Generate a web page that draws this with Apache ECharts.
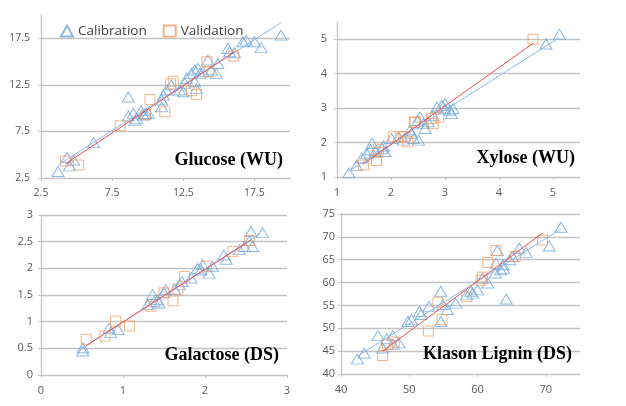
<!DOCTYPE html>
<html>
<head>
<meta charset="utf-8">
<script src="https://cdn.jsdelivr.net/npm/echarts@6/dist/echarts.min.js"></script>
<style>html,body{margin:0;padding:0;background:#fff}#c{width:626px;height:406px}</style>
</head>
<body>
<div id="c"></div>
<script>
// ---- Glucose (WU)
var glucoseCal = [[3.7,3.2],[4.33,4.72],[4.5,3.8],[4.8,4.43],[6.2,6.3],[8.64,11.2],[8.64,9.15],[8.99,9.44],[9.23,8.9],[9.53,9.72],[9.88,9.44],[10.04,9.44],[9.8,9.36],[9.7,9.26],[9.1,8.7],[10.98,10.15],[10.98,10.87],[11.1,11.4],[11.33,11.94],[11.67,12.48],[12.25,11.94],[12.5,11.76],[12.6,12.66],[12.72,13.2],[13.07,13.73],[13.3,14.09],[13.53,14.27],[13.3,12.83],[13.42,12.1],[13.65,13.73],[13.88,13.9],[14.23,15.16],[14.47,14.09],[14.82,13.73],[14.93,14.8],[15.63,16.4],[15.75,16.05],[16.1,15.95],[16.68,17.13],[16.92,17.3],[17.5,17.13],[17.97,16.5],[19.37,17.84]];
var glucoseVal = [[4.21,4.32],[5.14,3.89],[8.06,8.1],[9.85,9.3],[10.16,10.94],[11.2,9.6],[11.6,12.6],[11.8,12.9],[13.07,11.87],[13.42,11.48],[14.16,14.98],[14.3,13.9],[16.05,15.6]];
var glucoseCalFit = [[3.7,3.9],[19.4,19.2]];
var glucoseValFit = [[4.2,4.0],[16.1,16.05]];
// ---- Xylose (WU)
var xyloseCal = [[1.22,1.12],[1.36,1.33],[1.46,1.55],[1.55,1.69],[1.65,1.98],[1.62,1.79],[1.71,1.74],[1.83,1.83],[1.89,1.74],[1.86,1.9],[2.01,2.12],[2.14,2.17],[2.23,2.07],[2.35,2.36],[2.38,2.27],[2.42,2.12],[2.51,2.07],[2.54,2.74],[2.49,2.64],[2.6,2.55],[2.63,2.41],[2.69,2.6],[2.78,2.79],[2.85,3.03],[2.94,3.08],[3.0,2.98],[3.09,2.94],[3.0,3.13],[3.15,2.98],[3.12,2.84],[4.87,4.86],[5.12,5.14]];
var xyloseVal = [[1.49,1.35],[1.73,1.48],[1.77,1.81],[1.76,1.71],[2.05,2.17],[2.18,2.17],[2.31,2.02],[2.26,2.17],[2.45,2.6],[2.43,2.58],[2.75,2.7],[2.78,2.55],[2.88,2.74],[4.63,5.0]];
var xyloseCalFit = [[1.2,1.15],[5.12,5.05]];
var xyloseValFit = [[1.48,1.37],[4.63,4.88]];
// ---- Galactose (DS)
var galactoseCal = [[0.51,0.51],[0.51,0.45],[0.83,0.88],[0.94,0.85],[0.85,0.8],[1.3,1.32],[1.36,1.51],[1.38,1.38],[1.42,1.41],[1.44,1.35],[1.5,1.54],[1.52,1.6],[1.63,1.6],[1.69,1.69],[1.72,1.75],[1.83,1.82],[1.91,2.0],[1.95,1.97],[1.97,2.07],[2.05,1.91],[2.09,2.04],[2.23,2.25],[2.26,2.17],[2.42,2.35],[2.48,2.41],[2.56,2.69],[2.58,2.41],[2.7,2.67],[2.54,2.52]];
var galactoseVal = [[0.55,0.67],[0.78,0.73],[0.91,1.01],[1.08,0.92],[1.34,1.29],[1.5,1.54],[1.61,1.39],[1.67,1.61],[1.75,1.85],[2.02,2.04],[2.34,2.32],[2.54,2.52]];
var galactoseCalFit = [[0.5,0.5],[2.68,2.66]];
var galactoseValFit = [[0.55,0.55],[2.56,2.53]];
// ---- Klason Lignin (DS)
var ligninCal = [[42.4,43.3],[43.4,44.6],[45.4,48.4],[46.1,45.7],[46.7,47.7],[47.6,48.4],[47.6,46.5],[48.5,46.8],[49.8,51.5],[50.3,51.9],[51.5,53.7],[51.7,53],[52.9,54.8],[54.6,58.1],[54.6,51.5],[54.9,55.2],[55.6,54.1],[56.8,55.5],[58.4,57.3],[59.0,58.1],[59.3,57.7],[60.0,58.4],[60.7,61],[61.5,59.9],[62.6,62.1],[62.7,64.2],[62.9,67],[63.4,62.8],[63.7,63.9],[63.8,63.1],[64.2,56.4],[64.7,65],[65.1,65.7],[66.1,67.5],[67.1,66.6],[70.5,68.0],[72.2,72.1]];
var ligninVal = [[46.1,44.05],[46.8,46.5],[47.8,47.0],[52.8,49.4],[54.2,55.7],[54.8,51.9],[58.4,56.9],[60.5,60.5],[60.7,61.2],[61.5,64.4],[62.7,67.0],[65.5,65.7],[69.5,69.3]];
var ligninCalFit = [[42.4,43.9],[72.2,71.7]];
var ligninValFit = [[46.1,45.0],[69.5,70.8]];

var panelTitles = ['Glucose (WU)','Xylose (WU)','Galactose (DS)','Klason Lignin (DS)'];
var axisMin = [2.5, 1, 0, 40];
var axisMax = [20, 5.5, 3, 75];
var axisStep = [5, 1, 0.5, 5];
var xAxisStep = [5, 1, 1, 10];

var BLUE = '#6fa8dc', ORANGE = '#f0a066', BLUE_LINE = '#8dbbe6', RED_LINE = '#f24d4d';
var grids = [
  {left:41, top:15, width:249, height:163},
  {left:337, top:22, width:243, height:155},
  {left:41, top:215, width:246, height:160},
  {left:341, top:214, width:239, height:160}
];
var labelFont = [10.5, 11, 11, 11];
var yMargin = [11, 10, 8, 6];
var gridColor = '#c4c4c4';
var panels = [
  [glucoseCal, glucoseVal, glucoseCalFit, glucoseValFit],
  [xyloseCal, xyloseVal, xyloseCalFit, xyloseValFit],
  [galactoseCal, galactoseVal, galactoseCalFit, galactoseValFit],
  [ligninCal, ligninVal, ligninCalFit, ligninValFit]
];
var xAxes = [], yAxes = [], series = [], graphics = [];
panels.forEach(function(p, i){
  var common = {
    gridIndex:i, type:'value',
    axisLine:{show:true, lineStyle:{color:gridColor, width:1.3}},
    axisTick:{show:true, length:3, lineStyle:{color:gridColor}},
    splitLine:{show:false},
    axisLabel:{color:'#595959', fontFamily:'Open Sans', fontSize:labelFont[i]}
  };
  xAxes.push(Object.assign({}, common, {min:axisMin[i], max:axisMax[i], interval:xAxisStep[i],
    axisLabel:Object.assign({}, common.axisLabel, {margin:10, showMaxLabel: i===2})}));
  yAxes.push(Object.assign({}, common, {min:axisMin[i], max:axisMax[i], interval:axisStep[i],
    splitLine:{show:true, showMinLine:false, showMaxLine: (i===2||i===3), lineStyle:{color:gridColor, width:1.3}},
    axisLabel:Object.assign({}, common.axisLabel, {margin:yMargin[i], showMaxLabel:(i===2||i===3)})}));
  series.push({name:'Calibration', type:'scatter', xAxisIndex:i, yAxisIndex:i, data:p[0],
    symbol:'triangle', symbolSize:[12,10],
    itemStyle:{color:'rgba(255,255,255,0)', borderColor:BLUE, borderWidth:1}});
  series.push({name:'Validation', type:'scatter', xAxisIndex:i, yAxisIndex:i, data:p[1],
    symbol:'rect', symbolSize:[10,10],
    itemStyle:{color:'rgba(255,255,255,0)', borderColor:ORANGE, borderWidth:1}});
  series.push({name:'calfit'+i, type:'line', xAxisIndex:i, yAxisIndex:i, data:p[2], symbol:'none', silent:true,
    lineStyle:{color:BLUE_LINE, width:1}, z:5});
  series.push({name:'valfit'+i, type:'line', xAxisIndex:i, yAxisIndex:i, data:p[3], symbol:'none', silent:true,
    lineStyle:{color:RED_LINE, width:1}, z:6});
});
var titlePos = [[283,160],[575,158],[279,355],[572,354]];
panelTitles.forEach(function(t, i){
  graphics.push({type:'text', x:titlePos[i][0], y:titlePos[i][1], z:100,
    style:{text:t, align:'right', verticalAlign:'middle', fill:'#000',
      font:'bold 18px "Liberation Serif", "Times New Roman", serif'}});
});
var chart = echarts.init(document.getElementById('c'), null, {renderer:'canvas'});
chart.setOption({
  backgroundColor:'#fff',
  animation:false,
  grid:grids,
  xAxis:xAxes,
  yAxis:yAxes,
  legend:{left:55, top:19, itemWidth:12, itemHeight:11, itemGap:16,
    textStyle:{color:'#404040', fontFamily:'Open Sans', fontSize:13.5},
    data:[{name:'Calibration', icon:'triangle'},{name:'Validation', icon:'rect'}]},
  series:series,
  graphic:graphics
});

// Safety net: if the top tick label of the Klason Lignin y-axis was dropped,
// place it (and its grid line) at the position given by the chart's own scale.
try {
  var topVal = axisMax[3];
  var corner = chart.convertToPixel({xAxisIndex:3, yAxisIndex:3}, [axisMin[3], topVal]);
  var far = chart.convertToPixel({xAxisIndex:3, yAxisIndex:3}, [axisMax[3], topVal]);
  var found = false;
  chart.getZr().storage.getDisplayList(true).forEach(function(el){
    var txt = el.style && el.style.text;
    if (txt === String(topVal) && !el.ignore && !el.invisible) {
      var r = el.getBoundingRect();
      var pt = el.transform ? [el.transform[4], el.transform[5]] : [el.x, el.y];
      if (pt[0] < corner[0] + 1 && Math.abs(pt[1] - corner[1]) < 12) found = true;
    }
  });
  if (!found) {
    graphics.push({type:'text', x:corner[0] - yMargin[3], y:corner[1], z:50,
      style:{text:String(topVal), align:'right', verticalAlign:'middle', fill:'#595959',
        font:labelFont[3] + 'px "Open Sans"'}});
    graphics.push({type:'line', z:1, shape:{x1:corner[0], y1:corner[1], x2:far[0], y2:far[1]},
      style:{stroke:gridColor, lineWidth:1.3}});
    chart.setOption({graphic:graphics});
  }
} catch (e) {}
</script>
</body>
</html>
